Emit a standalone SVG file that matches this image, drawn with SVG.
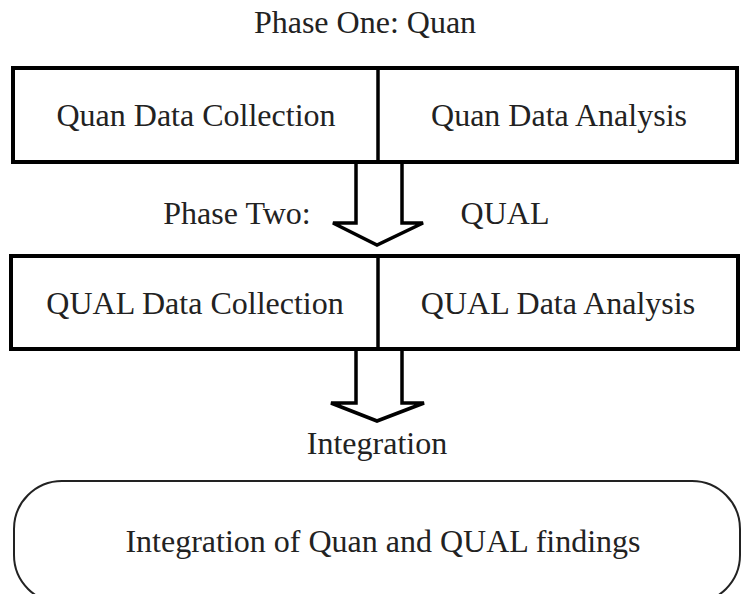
<svg xmlns="http://www.w3.org/2000/svg" width="744" height="594" viewBox="0 0 744 594">
<style>
text{font-family:"Liberation Serif","Times New Roman",serif;font-size:32px;fill:#222;text-anchor:middle}
.box{fill:#fff;stroke:#000;stroke-width:4}
.div{stroke:#000;stroke-width:3.5}
.arr{fill:#fff;stroke:#000;stroke-width:3.5;stroke-linejoin:miter}
.round{fill:#fff;stroke:#222;stroke-width:2}
</style>
<rect width="744" height="594" fill="#fff"/>
<text x="365" y="33">Phase One: Quan</text>
<g id="phase1">
<rect class="box" x="13" y="68" width="724" height="94"/>
<line class="div" x1="378" y1="68" x2="378" y2="162"/>
<text x="196" y="126">Quan Data Collection</text>
<text x="559" y="126">Quan Data Analysis</text>
</g>
<g id="connectors">
<polyline class="arr" points="356,164 356,223 333,223 377,245 423,223 402,223 402,164"/>
<polyline class="arr" points="356,351 356,403 331,403 377,421 424,403 402,403 402,351"/>
</g>
<text x="237" y="224">Phase Two:</text>
<text x="505" y="224">QUAL</text>
<g id="phase2">
<rect class="box" x="11" y="256" width="727" height="93"/>
<line class="div" x1="378" y1="256" x2="378" y2="349"/>
<text x="195" y="314">QUAL Data Collection</text>
<text x="558" y="314">QUAL Data Analysis</text>
</g>
<text x="377" y="454">Integration</text>
<g id="integration">
<rect class="round" x="14" y="481" width="726" height="122" rx="48" ry="48"/>
<text x="383" y="552">Integration of Quan and QUAL findings</text>
</g>
</svg>
